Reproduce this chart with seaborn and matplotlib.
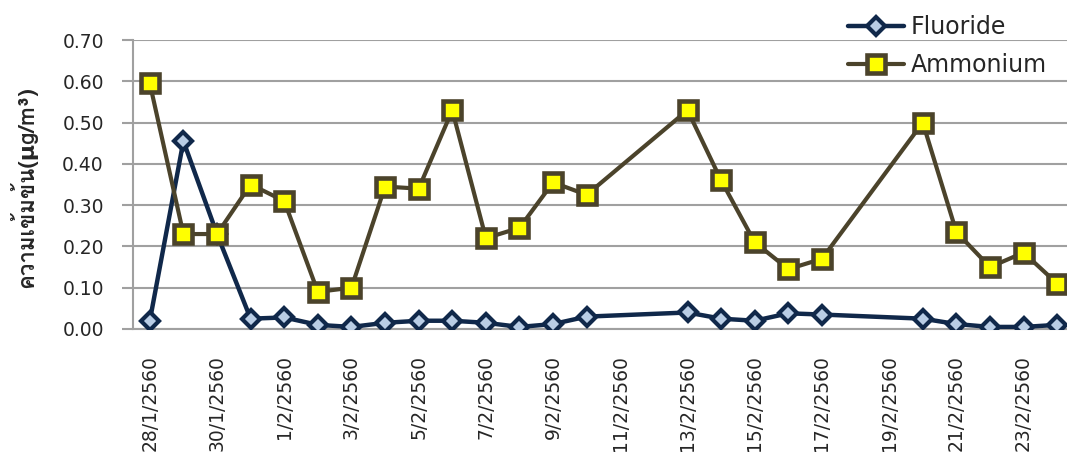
import pandas as pd
import seaborn as sns
import matplotlib.pyplot as plt
from matplotlib import font_manager, ft2font

# sampling dates (Gregorian) and measured concentrations
dates = ["2017-01-28", "2017-01-29", "2017-01-30", "2017-01-31", "2017-02-01",
         "2017-02-02", "2017-02-03", "2017-02-04", "2017-02-05", "2017-02-06",
         "2017-02-07", "2017-02-08", "2017-02-09", "2017-02-10", "2017-02-13",
         "2017-02-14", "2017-02-15", "2017-02-16", "2017-02-17", "2017-02-20",
         "2017-02-21", "2017-02-22", "2017-02-23", "2017-02-24"]
fluoride = [0.020, 0.455, 0.230, 0.025, 0.028, 0.010, 0.005, 0.015, 0.020, 0.020,
            0.015, 0.005, 0.012, 0.030, 0.040, 0.025, 0.020, 0.038, 0.035, 0.025,
            0.012, 0.005, 0.005, 0.010]
ammonium = [0.595, 0.230, 0.230, 0.350, 0.310, 0.090, 0.100, 0.345, 0.340, 0.530,
            0.220, 0.245, 0.355, 0.325, 0.530, 0.360, 0.210, 0.145, 0.170, 0.500,
            0.235, 0.150, 0.185, 0.110]
y_label = "ความเข้มข้น(μg/m³)"

df = pd.DataFrame({"date": pd.to_datetime(dates), "Fluoride": fluoride, "Ammonium": ammonium})

# find a font that has Thai glyphs
thai_font = None
for f in font_manager.fontManager.ttflist:
    try:
        if 0x0E04 in ft2font.FT2Font(f.fname).get_charmap():
            thai_font = f.name
            break
    except Exception:
        pass

sns.set_style("white")
families = ([thai_font] if thai_font else []) + ["DejaVu Sans"]
plt.rcParams["font.family"] = ["DejaVu Sans"]

fig = plt.figure(figsize=(10.67, 4.55), dpi=100)
ax = fig.add_axes([133 / 1067, 126 / 455, 941 / 1067, 289 / 455])

sns.lineplot(data=df, x="date", y="Fluoride", ax=ax, sort=False, color="#10284a",
             linewidth=3.2, marker="D", markersize=9.5, markerfacecolor="#b9cde5",
             markeredgecolor="#10284a", markeredgewidth=3.0, label="Fluoride", zorder=3)
sns.lineplot(data=df, x="date", y="Ammonium", ax=ax, sort=False, color="#4b432b",
             linewidth=3.0, marker="s", markersize=13, markerfacecolor="#ffff00",
             markeredgecolor="#4b432b", markeredgewidth=3.3, label="Ammonium", zorder=4)

ax.set_ylim(0, 0.70)
ax.set_yticks([i / 10 for i in range(8)])
ax.yaxis.set_major_formatter(plt.FuncFormatter(lambda v, p: f"{v:.2f}"))
ax.grid(axis="y", color="#a0a0a0", linewidth=1.5)
ax.set_axisbelow(True)

start = pd.Timestamp("2017-01-27 12:00")
end = pd.Timestamp("2017-02-24 12:00")
ax.set_xlim(start, end)
label_days = pd.date_range("2017-01-28", "2017-02-23", freq="2D")
bound_days = pd.date_range(start, end, freq="2D")
ax.set_xticks(label_days)
ax.set_xticklabels([f"{d.day}/{d.month}/{d.year + 543}" for d in label_days],
                   rotation=90, fontsize=13.5)
ax.set_xticks(bound_days, minor=True)
ax.tick_params(axis="x", which="major", length=0, pad=19)
ax.tick_params(axis="x", which="minor", length=7, width=1.5, color="#a0a0a0", direction="out")
ax.tick_params(axis="y", length=8, width=1.5, color="#a0a0a0", direction="out", pad=13,
               labelsize=13.5, left=True)

for side in ["top", "right"]:
    ax.spines[side].set_visible(False)
for side in ["left", "bottom"]:
    ax.spines[side].set_color("#a0a0a0")
    ax.spines[side].set_linewidth(1.5)

ax.set_xlabel("")
ax.set_ylabel(y_label, family=families, fontsize=16, fontweight="bold")
ax.yaxis.set_label_coords(-0.102, 0.49)

leg = ax.legend(loc="upper left", bbox_to_anchor=(827 / 1067, 1 + 6 / 455),
                bbox_transform=fig.transFigure, frameon=False, fontsize=17,
                handlelength=2.35, handletextpad=0.3, labelspacing=0.6)

fig.savefig("out.png", dpi=100)
